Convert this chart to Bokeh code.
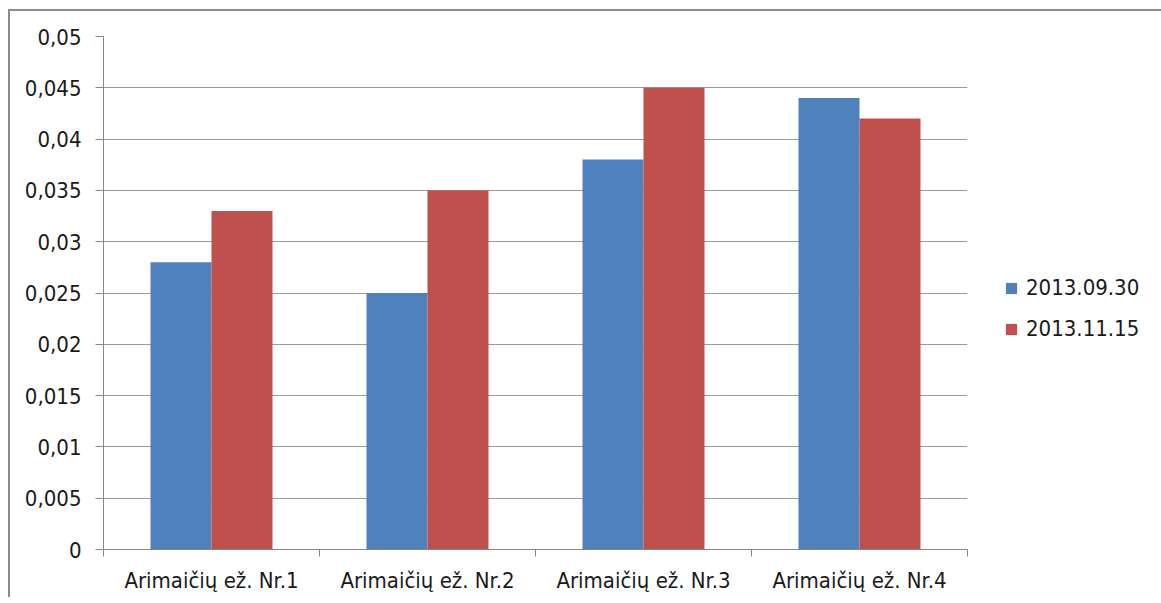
from bokeh.plotting import figure
from bokeh.models import FixedTicker, Legend, LegendItem, ColumnDataSource, Range1d
from bokeh.transform import dodge
from bokeh.embed import file_html
from bokeh.resources import INLINE

categories = ["Arimaičių ež. Nr.1", "Arimaičių ež. Nr.2", "Arimaičių ež. Nr.3", "Arimaičių ež. Nr.4"]
series_names = ["2013.09.30", "2013.11.15"]
values_0930 = [0.028, 0.025, 0.038, 0.044]
values_1115 = [0.033, 0.035, 0.045, 0.042]
y_ticks = [0, 0.005, 0.01, 0.015, 0.02, 0.025, 0.03, 0.035, 0.04, 0.045, 0.05]
y_tick_labels = ["0", "0,005", "0,01", "0,015", "0,02", "0,025", "0,03", "0,035", "0,04", "0,045", "0,05"]

FONT = "DejaVu Sans Condensed"
FS = "22px"
BLUE = "#4F81BD"
RED = "#C0504D"
GRID = "#9a9a9a"
AXIS = "#868686"

src = ColumnDataSource(dict(
    x=[i + 0.5 for i in range(len(categories))],
    a=values_0930,
    b=values_1115,
))

p = figure(frame_width=864, frame_height=513, output_backend="svg", toolbar_location=None,
           x_range=Range1d(0, len(categories)), y_range=Range1d(0, 0.05),
           min_border_left=93, min_border_top=25, min_border_right=180, min_border_bottom=48)
p.styles = {"margin-left": "8px", "margin-top": "9px",
            "border-left": "2px solid #8c8c8c", "border-top": "2px solid #8c8c8c"}
p.outline_line_color = None
p.background_fill_color = "white"

w = 0.2824
r1 = p.vbar(x=dodge("x", -w / 2, range=p.x_range), top="a", width=w, source=src,
            fill_color=BLUE, line_color=None)
r2 = p.vbar(x=dodge("x", w / 2, range=p.x_range), top="b", width=w, source=src,
            fill_color=RED, line_color=None)

# y axis
p.yaxis.ticker = FixedTicker(ticks=y_ticks)
p.yaxis.major_label_overrides = {t: l for t, l in zip(y_ticks, y_tick_labels)}
p.yaxis.axis_line_color = AXIS
p.yaxis.major_tick_line_color = AXIS
p.yaxis.major_tick_out = 8
p.yaxis.major_tick_in = 0
p.yaxis.minor_tick_line_color = None
p.yaxis.major_label_standoff = 14
p.yaxis.major_label_text_font = FONT
p.yaxis.major_label_text_font_size = FS
p.yaxis.major_label_text_color = "#1a1a1a"

# x axis
p.xaxis.ticker = FixedTicker(ticks=[i + 0.5 for i in range(len(categories))],
                             minor_ticks=list(range(len(categories) + 1)))
p.xaxis.major_label_overrides = {i + 0.5: c for i, c in enumerate(categories)}
p.xaxis.axis_line_color = AXIS
p.xaxis.major_tick_line_color = None
p.xaxis.major_tick_out = 0
p.xaxis.major_tick_in = 0
p.xaxis.minor_tick_line_color = AXIS
p.xaxis.minor_tick_out = 7
p.xaxis.minor_tick_in = 0
p.xaxis.major_label_standoff = 11
p.xaxis.major_label_text_font = FONT
p.xaxis.major_label_text_font_size = FS
p.xaxis.major_label_text_color = "#1a1a1a"

p.xgrid.grid_line_color = None
p.ygrid.grid_line_color = GRID
p.ygrid.ticker = FixedTicker(ticks=y_ticks)

legend = Legend(items=[LegendItem(label=series_names[0], renderers=[r1]),
                       LegendItem(label=series_names[1], renderers=[r2])],
                location=(37, 208), border_line_color=None, background_fill_alpha=0,
                label_text_font=FONT, label_text_font_size=FS, label_text_color="#1a1a1a",
                glyph_width=14, glyph_height=14, spacing=16, label_standoff=8,
                margin=0, padding=6)
p.add_layout(legend, "right")

open("out.html", "w").write(file_html(p, INLINE))
